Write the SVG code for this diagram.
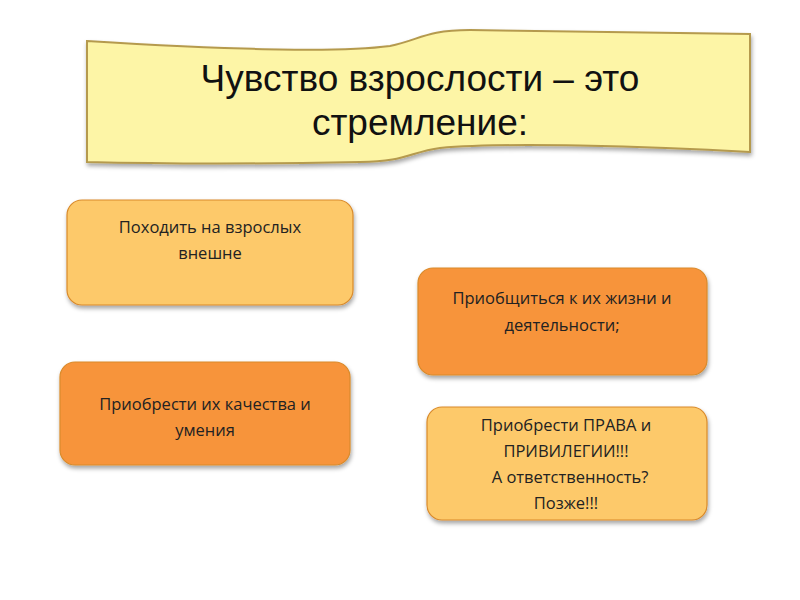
<svg xmlns="http://www.w3.org/2000/svg" width="800" height="600" viewBox="0 0 800 600">
<defs>
<filter id="sh" x="-10%" y="-10%" width="130%" height="140%"><feDropShadow dx="1" dy="3" stdDeviation="2" flood-color="#000" flood-opacity="0.35"/></filter>
<style>
.box{stroke:#d98a2a;stroke-width:1.2;filter:url(#sh)}
.light{fill:#fdc96a}
.dark{fill:#f7943a}
.t{font-family:"Open Sans","Liberation Sans",sans-serif;font-size:16.5px;fill:#222;text-anchor:middle}
.title{font-family:"Liberation Sans",Arial,sans-serif;font-size:37px;fill:#111;text-anchor:middle}
</style>
</defs>
<rect width="800" height="600" fill="#fff"/>
<g id="banner">
<path d="M87,41 C200,48 330,54 390,46 C420,40 425,30 470,30 L750,34 L750,152 C650,146 500,142 440,148 C410,152 405,162 360,162 C260,164 170,164 87,162 Z" fill="#fdf5a6" stroke="#b59a4e" stroke-width="2" filter="url(#sh)"/>
<text class="title" x="420" y="91">Чувство взрослости – это</text>
<text class="title" x="420" y="135">стремление:</text>
</g>
<g id="connectors"></g>
<g id="n1"><rect class="box light" x="67" y="200" width="286" height="105" rx="15"/>
<text class="t" x="210" y="233">Походить на взрослых</text><text class="t" x="210" y="259">внешне</text></g>
<g id="n2"><rect class="box dark" x="418" y="268" width="289" height="107" rx="15"/>
<text class="t" x="562" y="304">Приобщиться к их жизни и</text><text class="t" x="562" y="331">деятельности;</text></g>
<g id="n3"><rect class="box dark" x="60" y="362" width="290" height="103" rx="15"/>
<text class="t" x="205" y="410">Приобрести их качества и</text><text class="t" x="205" y="436">умения</text></g>
<g id="n4"><rect class="box light" x="427" y="407" width="280" height="113" rx="15"/>
<text class="t" x="566" y="431">Приобрести ПРАВА и</text><text class="t" x="566" y="457">ПРИВИЛЕГИИ!!!</text>
<text class="t" x="570" y="483">А ответственность?</text><text class="t" x="566" y="509">Позже!!!</text></g>
</svg>
